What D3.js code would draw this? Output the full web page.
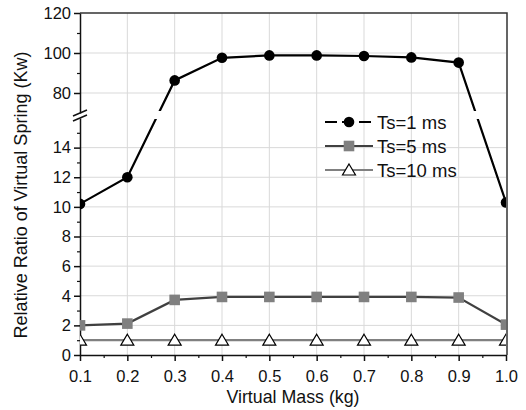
<!DOCTYPE html>
<html lang="en">
<head>
    <meta charset="UTF-8">
    <title>Relative Ratio of Virtual Spring</title>
    <style>
        body { margin: 0; background: #fff; }
        svg { display: block; }
        text { font-family: Arial, "Liberation Sans", sans-serif; fill: #111; }
        .grid line { stroke: #d9d9d9; stroke-width: 1; }
    </style>
</head>
<body>
    <svg width="526" height="410"></svg>
    <script src="https://d3js.org/d3.v7.min.js"></script>
    <script>
        // data
        const mass = [0.1, 0.2, 0.3, 0.4, 0.5, 0.6, 0.7, 0.8, 0.9, 1.0];
        const ts1 = [10.2, 12.0, 86.3, 97.6, 98.8, 98.8, 98.5, 97.8, 95.2, 10.3];
        const ts5 = [2.0, 2.12, 3.72, 3.92, 3.92, 3.92, 3.92, 3.92, 3.88, 2.05];
        const ts10 = [1.0, 1.0, 1.0, 1.0, 1.0, 1.0, 1.0, 1.0, 1.0, 1.0];
        const seriesNames = ["Ts=1 ms", "Ts=5 ms", "Ts=10 ms"];
        const xTicks = [0.1, 0.2, 0.3, 0.4, 0.5, 0.6, 0.7, 0.8, 0.9, 1.0];
        const yTicksLow = [0, 2, 4, 6, 8, 10, 12, 14];
        const yTicksUp = [80, 100, 120];

        const plot = { left: 80, right: 506, top: 13, bottom: 355 };
        const breakTop = 113, breakBottom = 118;
        const font = "Arial, 'Liberation Sans', sans-serif";

        const svg = d3.select("svg");

        const x = d3.scaleLinear().domain([0.1, 1.0]).range([plot.left, plot.right]);
        const yUp = d3.scaleLinear().domain([70, 120]).range([breakTop, plot.top]);
        const yLow = d3.scaleLinear().domain([0, 16]).range([plot.bottom, breakBottom]);
        const y = v => v >= 70 ? yUp(v) : yLow(v);

        const defs = svg.append("defs");
        defs.append("clipPath").attr("id", "plot")
            .append("rect").attr("x", plot.left).attr("y", plot.top)
            .attr("width", plot.right - plot.left).attr("height", plot.bottom - plot.top);
        const gapClip = defs.append("clipPath").attr("id", "gap");
        gapClip.append("rect").attr("x", plot.left).attr("y", plot.top)
            .attr("width", plot.right - plot.left).attr("height", breakTop - 2 - plot.top);
        gapClip.append("rect").attr("x", plot.left).attr("y", breakBottom + 1)
            .attr("width", plot.right - plot.left).attr("height", plot.bottom - breakBottom);

        // grid
        const grid = svg.append("g").attr("class", "grid");
        grid.selectAll(".gx").data(xTicks.slice(1, -1)).enter().append("line")
            .attr("x1", d => x(d)).attr("x2", d => x(d))
            .attr("y1", plot.top).attr("y2", plot.bottom);
        grid.selectAll(".gy").data(yTicksLow.slice(1).map(yLow).concat([80, 100].map(yUp)))
            .enter().append("line")
            .attr("x1", plot.left).attr("x2", plot.right)
            .attr("y1", d => d).attr("y2", d => d);

        // frame (top and right)
        svg.append("path")
            .attr("d", `M${plot.left},${plot.top}H${plot.right + 1}V${plot.bottom}`)
            .attr("fill", "none").attr("stroke", "#333").attr("stroke-width", 1.5);

        function styleAxis(g, isX) {
            g.select(".domain").attr("stroke", "#111").attr("stroke-width", 1.5);
            g.selectAll(".tick line").attr("stroke", "#111").attr("stroke-width", 1.5);
            g.selectAll("text").attr("font-size", 16.5).attr("fill", "#111").style("font-family", font);
            if (isX) g.selectAll("text").attr("y", 15);
            else g.selectAll("text").attr("x", -9);
        }

        // x axis
        const xAxis = svg.append("g").attr("transform", `translate(0,${plot.bottom})`);
        xAxis.append("g")
            .call(d3.axisBottom(x).tickValues(d3.range(0.15, 1.0, 0.1)).tickSize(3).tickFormat(""))
            .call(g => g.select(".domain").remove())
            .call(g => g.selectAll(".tick line").attr("stroke", "#111").attr("stroke-width", 1.2));
        xAxis.append("g")
            .call(d3.axisBottom(x).tickValues(xTicks).tickSize(6).tickSizeOuter(0).tickFormat(d3.format(".1f")))
            .call(g => styleAxis(g, true));

        // y axis, lower part
        const yAxisLow = svg.append("g").attr("transform", `translate(${plot.left},0)`);
        yAxisLow.append("g")
            .call(d3.axisLeft(yLow).tickValues(d3.range(1, 16, 2)).tickSize(3).tickFormat(""))
            .call(g => g.select(".domain").remove())
            .call(g => g.selectAll(".tick line").attr("stroke", "#111").attr("stroke-width", 1.2));
        yAxisLow.append("g")
            .call(d3.axisLeft(yLow).tickValues(yTicksLow).tickSize(6).tickSizeOuter(0))
            .call(g => styleAxis(g, false));

        // y axis, upper part
        const yAxisUp = svg.append("g").attr("transform", `translate(${plot.left},0)`);
        yAxisUp.append("g")
            .call(d3.axisLeft(yUp).tickValues([90, 110]).tickSize(3).tickFormat(""))
            .call(g => g.select(".domain").remove())
            .call(g => g.selectAll(".tick line").attr("stroke", "#111").attr("stroke-width", 1.2));
        yAxisUp.append("g")
            .call(d3.axisLeft(yUp).tickValues(yTicksUp).tickSize(6).tickSizeOuter(0))
            .call(g => styleAxis(g, false));

        // break marks
        svg.selectAll(".brk").data([breakTop, breakBottom]).enter().append("line")
            .attr("x1", plot.left - 7).attr("x2", plot.left + 7)
            .attr("y1", d => d + 3).attr("y2", d => d - 3)
            .attr("stroke", "#111").attr("stroke-width", 1.5);

        // series
        const series = [
            { name: seriesNames[0], values: ts1, line: "#000", marker: "circle" },
            { name: seriesNames[1], values: ts5, line: "#404040", marker: "square" },
            { name: seriesNames[2], values: ts10, line: "#808080", marker: "triangle" }
        ];

        const line = d3.line().x(d => x(d[0])).y(d => y(d[1]));

        function drawMarker(g, type, cx, cy) {
            if (type === "circle") {
                g.append("circle").attr("cx", cx).attr("cy", cy).attr("r", 5.3).attr("fill", "#000");
            } else if (type === "square") {
                g.append("rect").attr("x", cx - 5.3).attr("y", cy - 5.3)
                    .attr("width", 10.6).attr("height", 10.6).attr("fill", "#808080");
            } else {
                g.append("path")
                    .attr("d", `M${cx},${cy - 6}L${cx + 6.5},${cy + 5}L${cx - 6.5},${cy + 5}Z`)
                    .attr("fill", "#fff").attr("stroke", "#000").attr("stroke-width", 1.2);
            }
        }

        const linesG = svg.append("g").attr("clip-path", "url(#gap)");
        const marksG = svg.append("g").attr("clip-path", "url(#plot)");
        series.slice().reverse().forEach(s => {
            const pts = mass.map((m, i) => [m, s.values[i]]);
            linesG.append("path")
                .datum(pts)
                .attr("d", line)
                .attr("fill", "none")
                .attr("stroke", s.line)
                .attr("stroke-width", 2.2);
            pts.forEach(p => drawMarker(marksG, s.marker, x(p[0]), y(p[1])));
        });

        // legend
        const legend = svg.selectAll(".legend").data(series).enter().append("g")
            .attr("class", "legend")
            .attr("transform", (d, i) => `translate(0,${122 + i * 24})`);
        legend.append("line")
            .attr("x1", 325).attr("x2", 373).attr("y1", 0).attr("y2", 0)
            .attr("stroke", d => d.line).attr("stroke-width", 2.2)
            .attr("stroke-dasharray", (d, i) => i === 0 ? "12,5" : null);
        legend.each(function (d) { drawMarker(d3.select(this), d.marker, 349, 0); });
        legend.append("text")
            .attr("x", 377).attr("y", 0).attr("dy", "0.36em")
            .attr("font-size", 18.5)
            .text(d => d.name);

        // axis titles
        svg.append("text")
            .attr("x", (plot.left + plot.right) / 2).attr("y", 403)
            .attr("text-anchor", "middle").attr("font-size", 17.8)
            .text("Virtual Mass (kg)");
        svg.append("text")
            .attr("transform", `translate(27,${(plot.top + plot.bottom) / 2 + 11}) rotate(-90)`)
            .attr("text-anchor", "middle").attr("font-size", 18)
            .text("Relative Ratio of Virtual Spring (Kw)");
    </script>
</body>
</html>
